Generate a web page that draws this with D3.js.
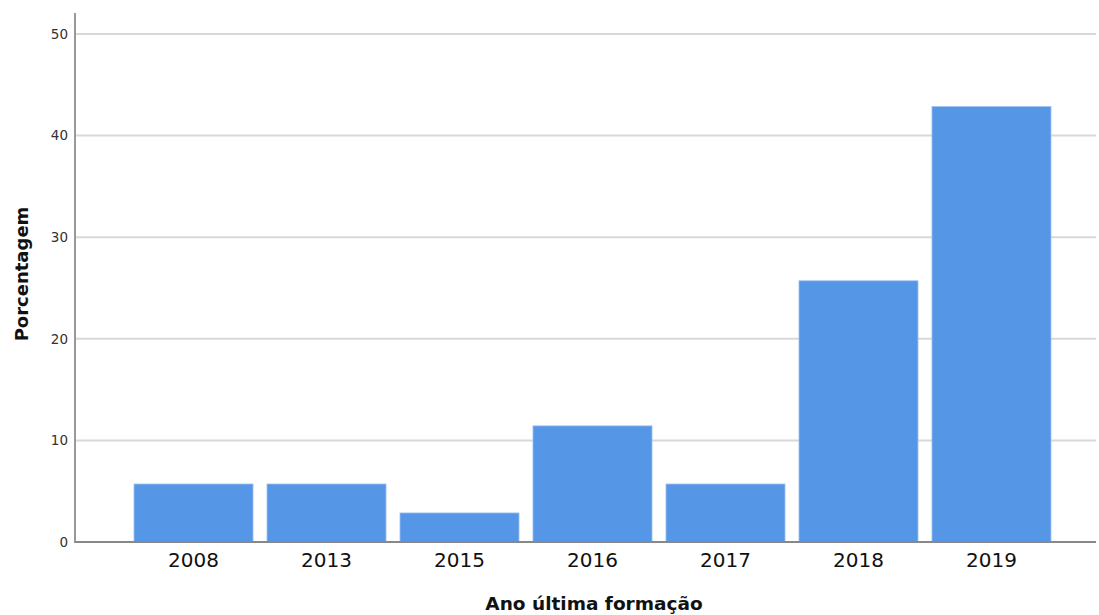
<!DOCTYPE html>
<html><head><meta charset="utf-8">
<script src="https://cdn.jsdelivr.net/npm/d3@7"></script>
<style>body{margin:0;background:#fff}</style>
</head><body>
<svg id="c" width="1099" height="615"></svg>
<script>
const categories = ["2008","2013","2015","2016","2017","2018","2019"];
const values = [5.71, 5.71, 2.86, 11.43, 5.71, 25.71, 42.86];
const yTicks = [0,10,20,30,40,50];

const svg = d3.select("#c");
const x = d3.scaleBand().domain(categories).range([134,1051]).paddingInner(0.105).paddingOuter(0);
const y = d3.scaleLinear().domain([0,50]).range([542,34]);

// gridlines
svg.append("g").selectAll("line").data(yTicks.filter(d=>d>0)).join("line")
  .attr("x1",76).attr("x2",1096).attr("y1",d=>y(d)).attr("y2",d=>y(d))
  .attr("stroke","#d8d8d8").attr("stroke-width",2);

// bars
svg.append("g").selectAll("rect").data(values).join("rect")
  .attr("x",(d,i)=>x(categories[i])).attr("width",x.bandwidth())
  .attr("y",d=>y(d)).attr("height",d=>y(0)-y(d))
  .attr("fill","#5596e6").attr("stroke","#9fc3f0").attr("stroke-width",0.8);

// y axis
const ya = svg.append("g").attr("transform","translate(75,0)")
  .call(d3.axisLeft(y).tickValues(yTicks).tickSize(0).tickPadding(7));
ya.select(".domain").remove();
ya.selectAll("text").attr("font-family","DejaVu Sans").attr("font-size",13.5).attr("fill","#333");
svg.append("line").attr("x1",75).attr("x2",75).attr("y1",13).attr("y2",543)
  .attr("stroke","#777").attr("stroke-width",1.5);

// x axis
const xa = svg.append("g").attr("transform","translate(0,542)")
  .call(d3.axisBottom(x).tickSize(0).tickPadding(8));
xa.select(".domain").remove();
xa.selectAll("text").attr("font-family","DejaVu Sans").attr("font-size",20).attr("fill","#111").attr("dy","0.85em");
svg.append("line").attr("x1",75).attr("x2",1096).attr("y1",542).attr("y2",542)
  .attr("stroke","#888").attr("stroke-width",2);

// titles
svg.append("text").attr("x",594).attr("y",610).attr("text-anchor","middle")
  .attr("font-family","DejaVu Sans").attr("font-weight","bold").attr("font-size",18.5).attr("fill","#111")
  .text("Ano última formação");
svg.append("text").attr("transform","translate(28,274) rotate(-90)").attr("text-anchor","middle")
  .attr("font-family","DejaVu Sans").attr("font-weight","bold").attr("font-size",18).attr("fill","#111")
  .text("Porcentagem");
</script>
</body></html>
